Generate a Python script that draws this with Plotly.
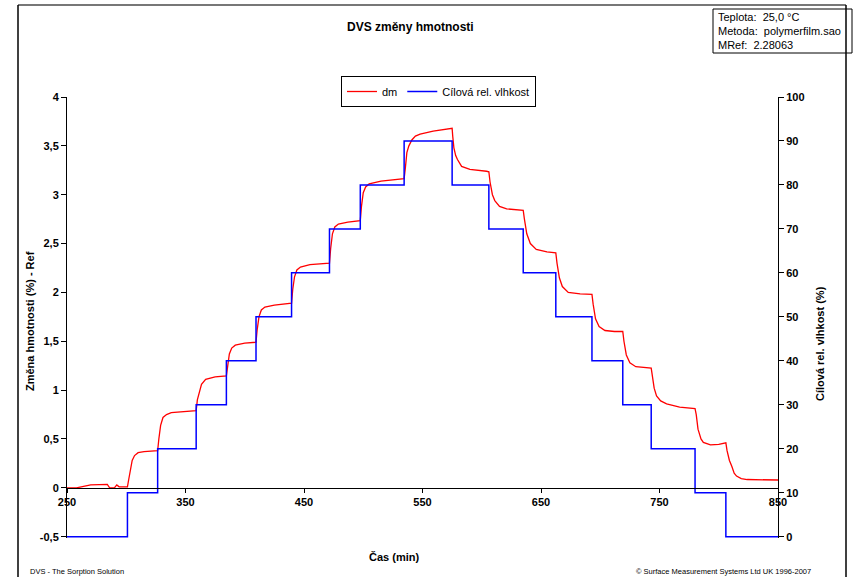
import plotly.graph_objects as go

# ---------------- data ----------------
time_rh = [250, 301, 326.5, 359, 384.5, 409.5, 439.5, 471.5, 497.5, 534.5,
           575, 606, 635, 662.5, 693, 719, 743, 780, 806, 850]
rh_target = [0, 10, 20, 30, 40, 50, 60, 70, 80, 90,
             80, 70, 60, 50, 40, 30, 20, 10, 0, 0]

time_dm = [250, 258, 262, 270, 284, 286, 290, 292, 294, 301,
           302, 303.5, 305, 307, 310, 315, 326.5,
           327.5, 329, 331, 334, 338, 350, 359,
           360, 361.5, 363.5, 367, 375, 384.5,
           385.5, 387, 389, 392, 400, 409.5,
           410.5, 412, 414, 417, 425, 439.5,
           440.5, 442, 444, 447, 455, 471.5,
           472.5, 474, 476, 479, 487, 497.5,
           498.5, 500, 502, 505, 515, 534.5,
           535.5, 536.8, 538.5, 541, 544, 548, 559, 573.5, 575,
           575.5, 576.5, 578, 579.5, 583, 590, 604, 606,
           607, 609, 611, 615, 621, 635,
           636, 638, 641, 646, 655, 662.5,
           663.5, 665.5, 668, 673, 683, 693,
           694, 696, 699, 704, 712, 719,
           720, 722, 725, 730, 743,
           744, 745.5, 747.5, 751, 756, 767, 780,
           781, 782.5, 785, 787, 793, 800, 806,
           807, 809, 811, 813, 815, 819, 824, 835, 850]
dm = [0.0, 0.0, 0.01, 0.03, 0.035, 0.0, 0.0, 0.03, 0.01, 0.01,
      0.08, 0.19, 0.28, 0.33, 0.36, 0.37, 0.38,
      0.5, 0.64, 0.72, 0.75, 0.77, 0.785, 0.79,
      0.9, 0.98, 1.06, 1.11, 1.135, 1.145,
      1.25, 1.37, 1.43, 1.46, 1.48, 1.49,
      1.62, 1.75, 1.82, 1.85, 1.87, 1.89,
      2.03, 2.16, 2.23, 2.26, 2.285, 2.30,
      2.45, 2.6, 2.67, 2.70, 2.72, 2.735,
      2.88, 3.02, 3.08, 3.11, 3.14, 3.165,
      3.27, 3.43, 3.5, 3.56, 3.6, 3.62, 3.65, 3.68, 3.68,
      3.6, 3.48, 3.4, 3.36, 3.29, 3.26, 3.24, 3.235,
      3.13, 3.0, 2.94, 2.88, 2.855, 2.84,
      2.75, 2.6, 2.5, 2.44, 2.415, 2.405,
      2.3, 2.15, 2.06, 2.0, 1.985, 1.98,
      1.88, 1.73, 1.65, 1.61, 1.60, 1.60,
      1.5, 1.36, 1.28, 1.24, 1.225,
      1.12, 1.02, 0.94, 0.89, 0.86, 0.825, 0.81,
      0.75, 0.6, 0.5, 0.465, 0.44, 0.445, 0.46,
      0.38, 0.28, 0.22, 0.15, 0.12, 0.095, 0.085, 0.085, 0.08]

x_ticks = [250, 350, 450, 550, 650, 750, 850]
x_ticktext = ["250", "350", "450", "550", "650", "750", "850"]
y_ticks = [-0.5, 0, 0.5, 1, 1.5, 2, 2.5, 3, 3.5, 4]
y_ticktext = ["-0,5", "0", "0,5", "1", "1,5", "2", "2,5", "3", "3,5", "4"]
y2_ticks = [0, 10, 20, 30, 40, 50, 60, 70, 80, 90, 100]

info_lines = ["Teplota:  25,0 °C", "Metoda:  polymerfilm.sao", "MRef:  2.28063"]

# ---------------- layout helpers ----------------
W, H = 854, 577
L, R, T, B = 67, 76, 97, 39
PW, PH = W - L - R, H - T - B


def px_x(px):
    return (px - L) / PW


def px_y(py):
    return (H - B - py) / PH


FONT = "Liberation Sans, Arial, sans-serif"

fig = go.Figure()
fig.add_trace(go.Scatter(x=time_dm, y=dm, mode="lines", name="dm",
                         line=dict(color="#ff0000", width=1.3), yaxis="y"))
fig.add_trace(go.Scatter(x=time_rh, y=rh_target, mode="lines", name="Cílová rel. vlhkost",
                         line=dict(color="#0000ff", width=1.5, shape="hv"), yaxis="y2"))

ext = 0.3
ext_l = ext * 4.5 / 100
fig.update_layout(
    width=W, height=H,
    margin=dict(l=L, r=R, t=T, b=B, pad=0),
    paper_bgcolor="white", plot_bgcolor="white",
    font=dict(family=FONT, size=11, color="black"),
    showlegend=True,
    legend=dict(orientation="h", x=px_x(341), y=px_y(76), xanchor="left", yanchor="top",
                bordercolor="black", borderwidth=1, bgcolor="white",
                font=dict(family=FONT, size=11), itemwidth=30,
                tracegroupgap=0),
    xaxis=dict(range=[250, 850], tickvals=x_ticks, ticktext=x_ticktext,
               anchor="free", position=(0.5 + ext_l) / (4.5 + ext_l),
               showline=True, linecolor="black", linewidth=1,
               ticks="outside", ticklen=4, tickcolor="black",
               showgrid=False, zeroline=False,
               tickfont=dict(family=FONT, size=11, weight="bold")),
    yaxis=dict(range=[-0.5 - ext_l, 4], tickvals=y_ticks, ticktext=y_ticktext,
               showline=True, linecolor="black", linewidth=1,
               ticks="outside", ticklen=5, tickcolor="black",
               showgrid=False, zeroline=False,
               tickfont=dict(family=FONT, size=11, weight="bold")),
    yaxis2=dict(range=[-ext, 100], tickvals=y2_ticks, overlaying="y", side="right",
                showline=True, linecolor="black", linewidth=1,
                ticks="outside", ticklen=5, tickcolor="black",
                showgrid=False, zeroline=False,
                tickfont=dict(family=FONT, size=11, weight="bold")),
)


def ann(text, x, y, xanchor="center", angle=0, size=11, weight="normal"):
    return dict(text=text, x=px_x(x), y=px_y(y), xref="paper", yref="paper",
                xanchor=xanchor, yanchor="middle", showarrow=False, textangle=angle,
                font=dict(family=FONT, size=size, weight=weight))


annotations = [
    ann("DVS změny hmotnosti", 410, 27, size=12, weight="bold"),
    ann("Změna hmotnosti (%) - Ref", 30, 321, angle=-90, weight="bold"),
    ann("Cílová rel. vlhkost (%)", 820, 344, angle=-90, weight="bold"),
    ann("Čas (min)", 394, 557, weight="bold"),
    ann("DVS - The Sorption Solution", 28, 571, xanchor="left", size=7.5),
    ann("© Surface Measurement Systems Ltd UK 1996-2007", 813, 571, xanchor="right", size=7.5),
]
for i, line in enumerate(info_lines):
    annotations.append(ann(line, 716, 17 + 14 * i, xanchor="left"))
fig.update_layout(annotations=annotations)

shapes = [
    # outer frame
    dict(type="line", xref="paper", yref="paper", x0=px_x(18), x1=px_x(846), y0=px_y(5), y1=px_y(5),
         line=dict(color="#777777", width=2)),
    dict(type="line", xref="paper", yref="paper", x0=px_x(18), x1=px_x(18), y0=px_y(5), y1=px_y(590),
         line=dict(color="black", width=1.5)),
    dict(type="line", xref="paper", yref="paper", x0=px_x(846), x1=px_x(846), y0=px_y(5), y1=px_y(590),
         line=dict(color="black", width=1.5)),
    # info box
    dict(type="rect", xref="paper", yref="paper", x0=px_x(713), x1=px_x(852), y0=px_y(53), y1=px_y(9),
         line=dict(color="black", width=1), fillcolor="white", layer="below"),
]
fig.update_layout(shapes=shapes)

fig.write_html("out.html", config={"displayModeBar": False},
               post_script="document.body.style.margin='0px';")
